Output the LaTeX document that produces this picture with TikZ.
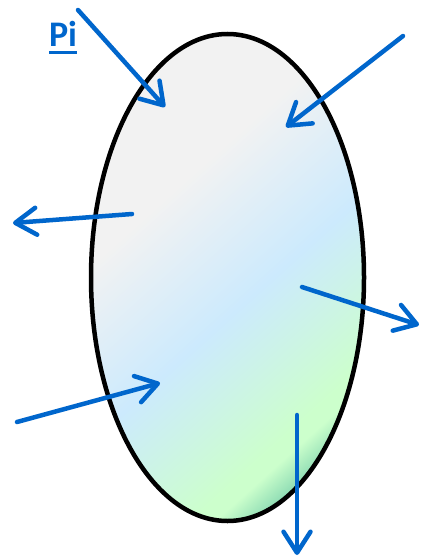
\documentclass[tikz,border=0pt]{standalone}
\usepackage{fontspec}
\usepackage{tikz}
\usetikzlibrary{arrows.meta,shapes.geometric}
\newfontfamily\labelfont{Carlito}
\definecolor{fBlue}{HTML}{0066CC}
\definecolor{gGray}{HTML}{F2F2F2}
\definecolor{gBlue}{HTML}{CCEAFD}
\definecolor{gGreen}{HTML}{CCFFCC}
\definecolor{gDark}{HTML}{8EDCB4}
\pgfdeclarehorizontalshading{cellgrad}{100bp}{%
  color(0bp)=(gGray); color(41bp)=(gGray); color(52.7bp)=(gBlue);
  color(64bp)=(gGreen); color(65.4bp)=(gGreen); color(68bp)=(gDark);
  color(100bp)=(gDark)}
\newcommand{\ulabel}[1]{\setbox0\hbox{#1}\rlap{\rule[-7.5pt]{\wd0}{3pt}}#1}
\tikzset{
  cellbody/.style={ellipse, draw=black, line width=4.5pt, inner sep=0pt,
                   minimum width=273pt, minimum height=487pt,
                   path picture={\shade[shading=cellgrad, shading angle=-48]
                     (path picture bounding box.center) ++(-280,-280)
                     rectangle ++(560,560);}},
  flux/.style={-{Straight Barb[length=21pt,width=27pt,round]},
               line width=4.5pt, line cap=round, color=fBlue},
  pilabel/.style={font=\labelfont\bfseries\fontsize{36}{40}\selectfont,
                  text=fBlue, inner sep=0pt},
}

\begin{document}
\begin{tikzpicture}[x=1pt, y=-1pt]
  \useasboundingbox (0,0) rectangle (420,556);
  \node[cellbody] (cell) at (227.5,277.5) {};
  \node[pilabel] (pi) at (63,38) {\ulabel{Pi}};
  % arrow ends
  \coordinate (inA0) at (78,10);    \coordinate (inA1) at (165,107);
  \coordinate (inB0) at (403,36);   \coordinate (inB1) at (286,127);
  \coordinate (outC0) at (132,214); \coordinate (outC1) at (13,223);
  \coordinate (outD0) at (302,287); \coordinate (outD1) at (419,325);
  \coordinate (inE0) at (17,422);   \coordinate (inE1) at (160,383);
  \coordinate (outF0) at (297,415); \coordinate (outF1) at (297,555);
  \draw[flux] (inA0) -- (inA1);
  \draw[flux] (inB0) -- (inB1);
  \draw[flux] (outC0) -- (outC1);
  \draw[flux] (outD0) -- (outD1);
  \draw[flux] (inE0) -- (inE1);
  \draw[flux] (outF0) -- (outF1);
\end{tikzpicture}
\end{document}
